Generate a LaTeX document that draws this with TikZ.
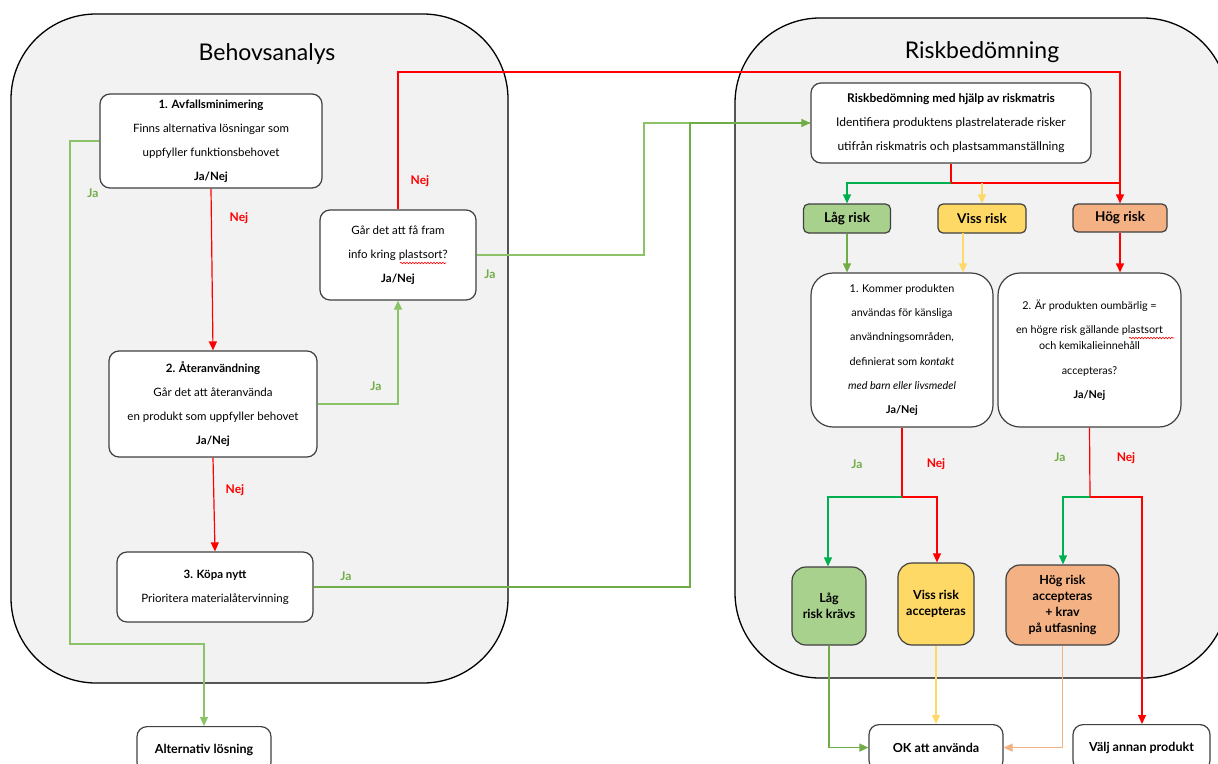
\documentclass[tikz,border=0pt]{standalone}
\usepackage{fontspec}
\setmainfont{Lato}
\usetikzlibrary{arrows.meta,decorations.pathmorphing}
\definecolor{contf}{HTML}{F2F2F2}
\definecolor{lgreen}{HTML}{8CC268}
\definecolor{dgreen}{HTML}{70AD47}
\definecolor{bgreen}{HTML}{00B050}
\definecolor{yel}{HTML}{FFD966}
\definecolor{ora}{HTML}{F4B183}
\definecolor{lowf}{HTML}{A9D18E}
\definecolor{redc}{HTML}{FF0000}
\tikzset{
  cont/.style={draw=black, line width=1.3pt, fill=contf, rounded corners=85pt},
  box/.style={draw=black!75, line width=1.2pt, fill=white, rounded corners=10pt, align=center,
    font=\fontsize{11.5}{24}\selectfont, inner sep=0pt},
  bigbox/.style={box, rounded corners=22pt, font=\fontsize{10.8}{24.2}\selectfont},
  riskbox/.style={draw=black!75, line width=1.2pt, rounded corners=5pt, align=center,
    font=\fontsize{13.5}{16}\selectfont\bfseries, inner sep=0pt},
  resbox/.style={riskbox, rounded corners=14pt, font=\fontsize{12.5}{16}\selectfont\bfseries},
  endbox/.style={box, font=\fontsize{12.5}{24}\selectfont\bfseries},
  title/.style={font=\fontsize{23}{26}\selectfont},
  arr/.style={-{Triangle[length=9pt,width=8pt]}},
  conn/.style={line width=1.2pt},
  gl/.style={conn, draw=lgreen},
  dg/.style={conn, draw=dgreen},
  bg/.style={conn, draw=bgreen},
  rl/.style={conn, draw=redc},
  yl/.style={conn, draw=yel},
  ol/.style={conn, draw=ora},
  jalab/.style={text=dgreen, font=\fontsize{12}{12}\selectfont\bfseries},
  nejlab/.style={text=redc, font=\fontsize{12}{12}\selectfont\bfseries},
  squig/.style={draw=redc, line width=0.6pt, decorate, decoration={snake, amplitude=0.8pt, segment length=3pt}}
}
\begin{document}
\begin{tikzpicture}[x=1pt,y=-1pt]
\useasboundingbox (0,0) rectangle (1218,763);
% containers
\draw[cont] (11,14) rectangle (508,683);
\draw[cont] (735,18) rectangle (1228,678);
\node[title] (t1) at (267,54) {Behovsanalys};
\node[title] (t2) at (982,52) {Riskbedömning};

% left nodes
\node[box, minimum width=222pt, minimum height=94pt] (b1) at (211,141)
  {\textbf{1. Avfallsminimering}\\Finns alternativa lösningar som\\uppfyller funktionsbehovet\\\textbf{Ja/Nej}};
\node[box, minimum width=208pt, minimum height=106pt] (b2) at (213,404)
  {\textbf{2. Återanvändning}\\Går det att återanvända\\en produkt som uppfyller behovet\\\textbf{Ja/Nej}};
\node[box, minimum width=196pt, minimum height=70pt] (b3) at (215,587)
  {\textbf{3. Köpa nytt}\\Prioritera materialåtervinning};
\node[box, minimum width=156pt, minimum height=90pt] (gar) at (398,255)
  {Går det att få fram\\info kring plastsort?\\\textbf{Ja/Nej}};
\node[endbox, minimum width=134pt, minimum height=46pt, anchor=north] (alt) at (204,726)
  {Alternativ lösning};
\draw[squig] (400,263) -- (446,263);

% right nodes
\node[box, minimum width=280pt, minimum height=80pt, font=\fontsize{12}{24}\selectfont] (rb) at (951,123)
  {\textbf{Riskbedömning med hjälp av riskmatris}\\Identifiera produktens plastrelaterade risker\\utifrån riskmatris och plastsammanställning};
\node[riskbox, fill=lowf, minimum width=87pt, minimum height=29pt] (lag) at (847,218.5) {Låg risk};
\node[riskbox, fill=yel, minimum width=88pt, minimum height=29pt] (viss) at (982,218.5) {Viss risk};
\node[riskbox, fill=ora, minimum width=94pt, minimum height=28pt] (hog) at (1120,218) {Hög risk};
\node[bigbox, minimum width=182pt, minimum height=154pt] (K) at (902,350)
  {1. Kommer produkten\\användas för känsliga\\användningsområden,\\definierat som \textit{kontakt}\\\textit{med barn eller livsmedel}\\\textbf{Ja/Nej}};
\node[bigbox, minimum width=183pt, minimum height=154pt] (A) at (1089.5,350)
  {2. Är produkten oumbärlig =\\en högre risk gällande plastsort\\[-8pt]och kemikalieinnehåll\\accepteras?\\\textbf{Ja/Nej}};
\draw[squig] (1129,338) -- (1174,338);
\node[resbox, fill=lowf, minimum width=74pt, minimum height=78pt] (lagk) at (829,606) {Låg\\risk krävs};
\node[resbox, fill=yel, minimum width=76pt, minimum height=82pt] (vissa) at (936,604) {Viss risk\\accepteras};
\node[resbox, fill=ora, minimum width=113pt, minimum height=80pt] (hoga) at (1062.5,605) {Hög risk\\accepteras\\+ krav\\på utfasning};
\node[endbox, minimum width=134pt, minimum height=46pt, anchor=north] (ok) at (936,724) {OK att använda};
\node[endbox, minimum width=137pt, minimum height=46pt, anchor=north] (valj) at (1141.5,724) {Välj annan produkt};

% coordinates
\coordinate (jl) at (70,644);
\coordinate (c3) at (690,123);
\coordinate (cg) at (644,123);
\coordinate (cn) at (398,72);
\coordinate (rbf) at (951,183);
\coordinate (vy) at (963,233);
\coordinate (kf) at (902,497);
\coordinate (af) at (1090,497);
\coordinate (lkx) at (828,497);
\coordinate (vax) at (937,497);
\coordinate (hax) at (1063,497);
\coordinate (vjx) at (1142,497);

% left connectors
\draw[gl, arr] (b1.west) -| (jl) -| (alt.north);
\draw[rl, arr] (b1.south) -- (b2.north);
\draw[gl, arr] (b2.east) -| (gar.south);
\draw[rl, arr] (b2.south) -- (b3.north);
\draw[gl] (gar.east) -| (cg) -- (rb.west);
\draw[dg, arr] (b3.east) -| (c3) -- (rb.west);
\draw[rl, arr] (gar.north) -- (cn) -| (hog.north);

% labels left
\node[jalab] (l1) at (93,193) {Ja};
\node[nejlab] (l2) at (239,218) {Nej};
\node[jalab] (l3) at (376,386) {Ja};
\node[nejlab] (l4) at (235,490) {Nej};
\node[jalab] (l5) at (346,576) {Ja};
\node[jalab] (l6) at (490,274) {Ja};
\node[nejlab] (l7) at (420,181) {Nej};

% right connectors
\draw[rl] (rb.south) -- (rbf) -- (rbf -| hog.north);
\draw[bg, arr] (rbf) -| (lag.north);
\draw[yl, arr] (rbf -| viss.north) -- (viss.north);
\draw[dg, arr] (lag.south) -- (lag.south |- K.north);
\draw[yl, arr] (vy) -- (vy |- K.north);
\draw[rl, arr] (hog.south) -- (hog.south |- A.north);
\draw[rl] (K.south) -- (kf);
\draw[bg, arr] (kf) -- (lkx) -- (lkx |- lagk.north);
\draw[rl, arr] (kf) -- (vax) -- (vax |- vissa.north);
\draw[rl] (A.south) -- (af);
\draw[bg, arr] (af) -- (hax) -- (hax |- hoga.north);
\draw[rl, arr] (af) -- (vjx) -- (vjx |- valj.north);
\draw[dg, arr] (lagk.south) |- (ok.west);
\draw[yl, arr] (vissa.south) -- (vissa.south |- ok.north);
\draw[ol, arr] (hoga.south) |- (ok.east);

% labels right
\node[jalab] (r1) at (857,464) {Ja};
\node[nejlab] (r2) at (936,464) {Nej};
\node[jalab] (r3) at (1060,457) {Ja};
\node[nejlab] (r4) at (1126,458) {Nej};
\end{tikzpicture}
\end{document}
